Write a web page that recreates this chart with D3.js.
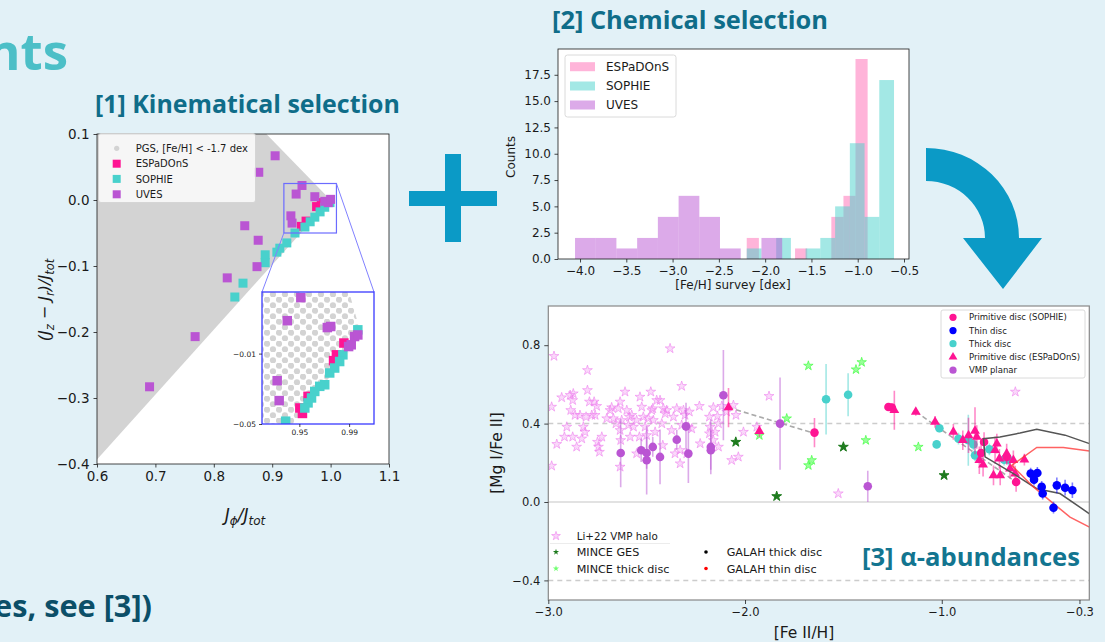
<!DOCTYPE html>
<html><head><meta charset="utf-8">
<script src="https://cdn.jsdelivr.net/npm/d3@7"></script>
<style>body{margin:0;background:#e2f1f7;} svg{display:block;font-family:"DejaVu Sans",sans-serif;}</style>
</head><body><svg id="c" width="1105" height="642"></svg>
<script>
// ---------------- DATA ----------------
// Panel 1: kinematical selection (Jphi/Jtot, (Jz-Jr)/Jtot)
const pgsRegion = [[0.6,0.1],[0.89,0.1],[1.0,0.0],[0.6,-0.393]];
const p1XTicks = [0.6,0.7,0.8,0.9,1.0,1.1];
const p1YTicks = [-0.4,-0.3,-0.2,-0.1,0.0,0.1];
const espMain = [[0.950,-0.040],[0.958,-0.032],[0.976,-0.010],[0.984,-0.004]];
const sophieMain = [[0.836,-0.147],[0.850,-0.126],[0.888,-0.083],[0.888,-0.095],[0.908,-0.079],[0.913,-0.073],[0.925,-0.065],[0.939,-0.050],[0.956,-0.041],[0.965,-0.033],[0.973,-0.026],[0.982,-0.018],[0.990,-0.011],[0.999,-0.004]];
const uvesMain = [[0.877,0.042],[0.905,0.067],[0.951,0.022],[0.941,0.009],[0.973,0.005],[0.990,-0.002],[0.996,-0.004],[1.000,0.001],[0.932,-0.024],[0.934,-0.035],[0.853,-0.039],[0.876,-0.061],[0.874,-0.101],[0.823,-0.118],[0.768,-0.207],[0.690,-0.283]];
// inset
const insetRegion = [[0.92,0.025],[0.99,0.025],[1.0,0.0],[0.945,-0.05],[0.92,-0.05]];
const insetXTicks = [0.95,0.99];
const insetYTicks = [-0.05,-0.01];
const espIn = [[0.9798,-0.0107],[0.9858,-0.0040],[0.9504,-0.0409],[0.9570,-0.0343],[0.9775,-0.0140],[0.9525,-0.0440]];
const sophieIn = [[0.9970,0.0035],[0.9850,-0.0107],[0.9824,-0.0145],[0.9784,-0.0182],[0.9744,-0.0210],[0.9704,-0.0277],[0.9664,-0.0286],[0.9624,-0.0315],[0.9598,-0.0352],[0.9570,-0.0380],[0.9544,-0.0409],[0.9390,-0.0484]];
const uvesIn = [[0.9512,0.0218],[0.9403,0.0087],[0.9725,0.0048],[0.9752,0.0054],[0.9944,-0.0003],[0.9970,0.0006],[0.9896,-0.0060],[0.9917,-0.0050],[0.9322,-0.0254],[0.9338,-0.0367]];

// Panel 2: histograms of [Fe/H]
const espEdges = [-2.199,-2.068,-1.938,-1.807,-1.677,-1.546,-1.415,-1.285,-1.154,-1.024,-0.893];
const espCounts = [2,0,0,0,1,0,0,4,6,19];
const sophieEdges = [-2.199,-2.040,-1.881,-1.722,-1.563,-1.404,-1.244,-1.085,-0.926,-0.767,-0.608];
const sophieCounts = [1,0,2,0,1,2,5,11,4,17];
const uvesEdges = [-4.054,-3.830,-3.607,-3.383,-3.159,-2.935,-2.711,-2.488,-2.264,-2.040,-1.816];
const uvesCounts = [2,2,1,2,4,6,4,1,0,2];
const p2XTicks = [-4.0,-3.5,-3.0,-2.5,-2.0,-1.5,-1.0,-0.5];
const p2YTicks = [0,2.5,5,7.5,10,12.5,15,17.5];

// Panel 3: [Mg I/Fe II] vs [Fe II/H]
const p3XTicks = [-3.0,-2.0,-1.0,-0.3];
const p3YTicks = [-0.4,0.0,0.4,0.8];
const liHalo = [[-2.971,0.744],[-2.983,0.485],[-2.983,0.184],[-2.957,0.295],[-2.932,0.533],[-2.906,0.383],[-2.918,0.332],[-2.889,0.545],[-2.876,0.519],[-2.886,0.468],[-2.864,0.443],[-2.876,0.332],[-2.873,0.553],[-2.856,0.281],[-2.839,0.443],[-2.830,0.323],[-2.822,0.383],[-2.813,0.357],[-2.808,0.434],[-2.801,0.672],[-2.801,0.570],[-2.791,0.511],[-2.779,0.443],[-2.767,0.511],[-2.762,0.443],[-2.754,0.489],[-2.745,0.281],[-2.750,0.306],[-2.740,0.255],[-2.728,0.332],[-2.703,0.426],[-2.686,0.468],[-2.678,0.482],[-2.669,0.426],[-2.656,0.400],[-2.644,0.477],[-2.635,0.511],[-2.627,0.417],[-2.635,0.366],[-2.635,0.179],[-2.632,0.315],[-2.610,0.562],[-2.601,0.468],[-2.593,0.392],[-2.584,0.332],[-2.588,0.434],[-2.576,0.443],[-2.567,0.383],[-2.551,0.417],[-2.551,0.247],[-2.537,0.332],[-2.534,0.536],[-2.525,0.485],[-2.517,0.434],[-2.508,0.383],[-2.500,0.340],[-2.491,0.426],[-2.479,0.562],[-2.474,0.468],[-2.469,0.477],[-2.466,0.417],[-2.457,0.357],[-2.449,0.519],[-2.432,0.519],[-2.423,0.400],[-2.418,0.289],[-2.415,0.477],[-2.406,0.451],[-2.398,0.468],[-2.381,0.783],[-2.373,0.366],[-2.364,0.434],[-2.356,0.247],[-2.347,0.477],[-2.330,0.196],[-2.330,0.264],[-2.322,0.591],[-2.322,0.392],[-2.313,0.468],[-2.305,0.443],[-2.296,0.247],[-2.288,0.383],[-2.283,0.460],[-2.271,0.374],[-2.232,0.489],[-2.228,0.298],[-2.181,0.434],[-2.181,0.349],[-2.178,0.383],[-2.161,0.482],[-2.161,0.315],[-2.152,0.357],[-2.140,0.438],[-2.135,0.281],[-2.135,0.400],[-2.118,0.489],[-2.093,0.460],[-2.068,0.213],[-2.059,0.494],[-2.046,0.443],[-2.034,0.230],[-2.008,0.357],[-1.940,0.383],[-1.878,0.540],[-1.526,0.043],[-0.626,0.562]];
const minceGES = [[-2.047,0.306],[-1.839,0.029],[-1.500,0.281],[-0.988,0.136]];
const minceThick = [[-1.788,0.426],[-1.927,0.340],[-1.678,0.695],[-1.436,0.676],[-1.407,0.713],[-1.386,0.315],[-1.661,0.213],[-1.678,0.187],[-1.119,0.281]];
const galahThick = [[-0.249,0.298],[-0.373,0.341],[-0.517,0.371],[-0.602,0.352],[-0.704,0.332],[-0.788,0.323],[-0.780,0.230],[-0.636,0.145],[-0.517,0.068],[-0.399,0.043],[-0.249,-0.060]];
const galahThin = [[-0.249,0.260],[-0.382,0.278],[-0.517,0.278],[-0.644,0.187],[-0.534,0.077],[-0.432,-0.008],[-0.348,-0.077],[-0.249,-0.128]];
const trendA = [[-2.084,0.482],[-1.653,0.352]];
const trendB = [[-1.131,0.460],[-0.636,0.111]];
// [Fe/H], [Mg/Fe], error
const vmpPlanar = [[-2.632,0.250,0.175],[-2.528,0.264,0.06],[-2.500,0.250,0.08],[-2.500,0.213,0.175],[-2.469,0.281,0.05],[-2.432,0.230,0.14],[-2.347,0.318,0.05],[-2.300,0.386,0.12],[-2.288,0.247,0.15],[-2.174,0.281,0.14],[-2.174,0.264,0.10],[-2.110,0.545,0.23],[-1.822,0.400,0.235],[-1.376,0.080,0.08]];
const primEsp = [[-2.084,0.482,0.10],[-1.927,0.361,0.03],[-1.241,0.468,0.10],[-1.132,0.460,0.02],[-1.034,0.409,0.03],[-0.941,0.358,0.04],[-0.893,0.315,0.05],[-0.864,0.340,0.09],[-0.831,0.363,0.12],[-0.822,0.332,0.06],[-0.809,0.213,0.07],[-0.790,0.190,0.06],[-0.729,0.264,0.07],[-0.720,0.298,0.05],[-0.707,0.221,0.05],[-0.670,0.247,0.05],[-0.636,0.213,0.05],[-0.580,0.216,0.03],[-0.737,0.136,0.05],[-0.703,0.136,0.05],[-0.653,0.170,0.05],[-0.627,0.145,0.04]];
const primSophie = [[-1.647,0.354,0.075],[-1.271,0.485,0.02],[-1.254,0.482,0.02],[-0.785,0.306,0.05],[-0.800,0.250,0.05],[-0.670,0.230,0.04],[-0.622,0.102,0.05]];
const thickDisc = [[-1.588,0.524,0.18],[-1.476,0.547,0.11],[-1.026,0.294,0.02],[-1.012,0.376,0.02],[-0.915,0.323,0.03],[-0.865,0.315,0.13],[-0.839,0.294,0.03],[-0.831,0.238,0.03],[-0.758,0.269,0.03],[-0.683,0.216,0.03],[-0.661,0.216,0.03]];
const thinDisc = [[-0.548,0.145,0.03],[-0.514,0.148,0.03],[-0.531,0.114,0.03],[-0.492,0.077,0.03],[-0.487,0.043,0.03],[-0.432,-0.029,0.03],[-0.415,0.085,0.04],[-0.373,0.073,0.04],[-0.336,0.060,0.04]];

// ---------------- DRAW ----------------
const svg = d3.select("#c");
const FONT = "DejaVu Sans";
const TFONT = "'Open Sans', Roboto, sans-serif";
const C_ESP = "#ff1493", C_SOP = "#48d1cc", C_UV = "#ba55d3";
svg.append("rect").attr("width",1105).attr("height",642).attr("fill","#e2f1f7");

function styleAxis(g, fs){
  g.select(".domain").remove();
  g.attr("font-family",FONT).attr("font-size",fs);
  g.selectAll("text").attr("fill","#1a1a1a");
  g.selectAll("line").attr("stroke","#1a1a1a").attr("stroke-width",0.8);
}
function squares(g, data, xs, ys, color, s){
  g.selectAll(null).data(data).enter().append("rect")
    .attr("x",d=>xs(d[0])-s/2).attr("y",d=>ys(d[1])-s/2)
    .attr("width",s).attr("height",s).attr("fill",color);
}
// title text fitted to the width it spans in the reference
function title(txt, x, y, width, color, anchor){
  const t = svg.append("text").attr("x",x).attr("y",y).attr("font-family",TFONT).attr("font-weight",700)
    .attr("font-size",24).attr("fill",color).attr("text-anchor",anchor||"start").text(txt);
  const w = t.node().getComputedTextLength();
  if (w>0) t.attr("font-size", 24*width/w);
  return t;
}

// ---- Titles / decorations ----
title("nts", 68, 70, 68-(-13), "#4cbfc7", "end");
title("[1] Kinematical selection", 95, 113, 305, "#0f6d89");
title("[2] Chemical selection", 552, 29, 276, "#0f6d89");
title("es, see [3])", 152, 617, 158, "#0c4f68", "end");
// plus sign
svg.append("rect").attr("x",445).attr("y",154).attr("width",16).attr("height",88).attr("fill","#0b9ac6");
svg.append("rect").attr("x",409).attr("y",191).attr("width",88).attr("height",15).attr("fill","#0b9ac6");
// curved arrow
svg.append("path").attr("d","M926,148 A93,90 0 0 1 1019,238 L1042,238 L1003,289 L963,238 L985,238 A59,57 0 0 0 926,181 Z")
  .attr("fill","#0b9ac6");

// ---- Panel 1 ----
const x1 = d3.scaleLinear().domain([0.6,1.1]).range([97,389]);
const y1 = d3.scaleLinear().domain([-0.4,0.1]).range([464,134]);
const p1 = svg.append("g");
p1.append("rect").attr("x",97).attr("y",134).attr("width",292).attr("height",330).attr("fill","#fff");
const line1 = d3.line().x(d=>x1(d[0])).y(d=>y1(d[1]));
p1.append("path").attr("d",line1(pgsRegion)+"Z").attr("fill","#d3d3d3");
squares(p1, espMain, x1, y1, C_ESP, 9);
squares(p1, sophieMain, x1, y1, C_SOP, 9);
squares(p1, uvesMain, x1, y1, C_UV, 9);
p1.append("rect").attr("x",97).attr("y",134).attr("width",292).attr("height",330)
  .attr("fill","none").attr("stroke","#1a1a1a").attr("stroke-width",0.8);
p1.append("g").attr("transform","translate(0,464)")
  .call(d3.axisBottom(x1).tickValues(p1XTicks).tickFormat(d3.format(".1f")).tickSize(3.5).tickPadding(4))
  .call(g=>styleAxis(g,13.5));
p1.append("g").attr("transform","translate(97,0)")
  .call(d3.axisLeft(y1).tickValues(p1YTicks).tickFormat(d3.format(".1f")).tickSize(3.5).tickPadding(4))
  .call(g=>styleAxis(g,13.5));
// axis labels
const xl1 = p1.append("text").attr("x",245).attr("y",521).attr("text-anchor","middle")
  .attr("font-family",FONT).attr("font-style","italic").attr("font-size",17).attr("fill","#1a1a1a");
xl1.append("tspan").text("J");
xl1.append("tspan").attr("font-size",12).attr("dy",4).text("ϕ");
xl1.append("tspan").attr("dy",-4).text("/J");
xl1.append("tspan").attr("font-size",12).attr("dy",4).text("tot");
const yl1 = p1.append("text").attr("transform","translate(50,300) rotate(-90)").attr("text-anchor","middle")
  .attr("font-family",FONT).attr("font-style","italic").attr("font-size",16).attr("fill","#1a1a1a");
yl1.append("tspan").text("(J");
yl1.append("tspan").attr("font-size",11.5).attr("dy",4).text("z");
yl1.append("tspan").attr("dy",-4).attr("font-style","normal").text(" − ");
yl1.append("tspan").text("J");
yl1.append("tspan").attr("font-size",11.5).attr("dy",4).text("r");
yl1.append("tspan").attr("dy",-4).text(")/J");
yl1.append("tspan").attr("font-size",11.5).attr("dy",4).text("tot");
// legend 1
const lg1 = p1.append("g").attr("font-family",FONT).attr("font-size",10).attr("fill","#1a1a1a");
lg1.append("rect").attr("x",98.5).attr("y",133.5).attr("width",157).attr("height",69).attr("rx",2.5)
  .attr("fill","#fff").attr("fill-opacity",0.8).attr("stroke","#d0d0d0").attr("stroke-width",0.8);
lg1.append("circle").attr("cx",116.7).attr("cy",148.3).attr("r",2.6).attr("fill","#d3d3d3");
const lg1Items = [["PGS, [Fe/H] < -1.7 dex",null,148.3],["ESPaDOnS",C_ESP,163.7],["SOPHIE",C_SOP,178.9],["UVES",C_UV,194.3]];
lg1Items.forEach(it=>{
  if(it[1]) lg1.append("rect").attr("x",112.7).attr("y",it[2]-4).attr("width",8).attr("height",8).attr("fill",it[1]);
  lg1.append("text").attr("x",135.7).attr("y",it[2]+3.6).text(it[0]);
});
// zoom rectangle + connectors + inset
const insetBox = {x0:262,y0:292,x1:374,y1:424};
p1.append("rect").attr("x",x1(0.92)).attr("y",y1(0.025)).attr("width",x1(1.01)-x1(0.92)).attr("height",y1(-0.05)-y1(0.025))
  .attr("fill","none").attr("stroke","#6b6bff").attr("stroke-width",1.2);
p1.append("line").attr("x1",x1(0.92)).attr("y1",y1(-0.05)).attr("x2",insetBox.x0).attr("y2",insetBox.y0)
  .attr("stroke","#8080ff").attr("stroke-width",1);
p1.append("line").attr("x1",x1(1.01)).attr("y1",y1(0.025)).attr("x2",insetBox.x1).attr("y2",insetBox.y0)
  .attr("stroke","#8080ff").attr("stroke-width",1);
const xi = d3.scaleLinear().domain([0.92,1.01]).range([insetBox.x0,insetBox.x1]);
const yi = d3.scaleLinear().domain([-0.05,0.025]).range([insetBox.y1,insetBox.y0]);
const defs = svg.append("defs");
const pat = defs.append("pattern").attr("id","dots").attr("patternUnits","userSpaceOnUse").attr("width",12).attr("height",11);
pat.append("circle").attr("cx",3).attr("cy",2.75).attr("r",3.1).attr("fill","#d3d3d3");
pat.append("circle").attr("cx",9).attr("cy",8.25).attr("r",3.1).attr("fill","#d3d3d3");
defs.append("clipPath").attr("id","insetClip").append("rect")
  .attr("x",insetBox.x0).attr("y",insetBox.y0).attr("width",insetBox.x1-insetBox.x0).attr("height",insetBox.y1-insetBox.y0);
const pin = p1.append("g");
pin.append("rect").attr("x",insetBox.x0).attr("y",insetBox.y0).attr("width",insetBox.x1-insetBox.x0).attr("height",insetBox.y1-insetBox.y0).attr("fill","#fff");
const pinc = pin.append("g").attr("clip-path","url(#insetClip)");
const linei = d3.line().x(d=>xi(d[0])).y(d=>yi(d[1]));
pinc.append("path").attr("d",linei(insetRegion)+"Z").attr("fill","url(#dots)");
squares(pinc, espIn, xi, yi, C_ESP, 9.5);
squares(pinc, sophieIn, xi, yi, C_SOP, 9.5);
squares(pinc, uvesIn, xi, yi, C_UV, 9.5);
pin.append("rect").attr("x",insetBox.x0).attr("y",insetBox.y0).attr("width",insetBox.x1-insetBox.x0).attr("height",insetBox.y1-insetBox.y0)
  .attr("fill","none").attr("stroke","#3a3aff").attr("stroke-width",1.3);
pin.append("g").attr("transform",`translate(0,${insetBox.y1})`)
  .call(d3.axisBottom(xi).tickValues(insetXTicks).tickFormat(d3.format(".2f")).tickSize(3).tickPadding(3))
  .call(g=>styleAxis(g,7.5));
pin.append("g").attr("transform",`translate(${insetBox.x0},0)`)
  .call(d3.axisLeft(yi).tickValues(insetYTicks).tickFormat(d3.format(".2f")).tickSize(3).tickPadding(3))
  .call(g=>styleAxis(g,7.5));

// ---- Panel 2 ----
const x2 = d3.scaleLinear().domain([-4.238,-0.446]).range([558,909]);
const y2 = d3.scaleLinear().domain([0,19.95]).range([259,49]);
const p2 = svg.append("g");
p2.append("rect").attr("x",558).attr("y",49).attr("width",351).attr("height",210).attr("fill","#fff");
function hist(edges, counts, color){
  const bins = counts.map((c,i)=>({x0:edges[i],x1:edges[i+1],c})).filter(b=>b.c>0);
  p2.selectAll(null).data(bins).enter().append("rect")
    .attr("x",b=>x2(b.x0)).attr("width",b=>x2(b.x1)-x2(b.x0))
    .attr("y",b=>y2(b.c)).attr("height",b=>y2(0)-y2(b.c))
    .attr("fill",color).attr("fill-opacity",0.5);
}
hist(espEdges, espCounts, "#ff69b4");
hist(sophieEdges, sophieCounts, C_SOP);
hist(uvesEdges, uvesCounts, C_UV);
p2.append("rect").attr("x",558).attr("y",49).attr("width",351).attr("height",210)
  .attr("fill","none").attr("stroke","#1a1a1a").attr("stroke-width",0.8);
p2.append("g").attr("transform","translate(0,259)")
  .call(d3.axisBottom(x2).tickValues(p2XTicks).tickFormat(d3.format(".1f")).tickSize(3.5).tickPadding(3.5))
  .call(g=>styleAxis(g,12));
p2.append("g").attr("transform","translate(558,0)")
  .call(d3.axisLeft(y2).tickValues(p2YTicks).tickFormat(d3.format(".1f")).tickSize(3.5).tickPadding(3.5))
  .call(g=>styleAxis(g,12));
p2.append("text").attr("x",733).attr("y",289).attr("text-anchor","middle").attr("font-family",FONT)
  .attr("font-size",12).attr("fill","#1a1a1a").text("[Fe/H] survey [dex]");
p2.append("text").attr("transform","translate(515,157) rotate(-90)").attr("text-anchor","middle").attr("font-family",FONT)
  .attr("font-size",12).attr("fill","#1a1a1a").text("Counts");
const lg2 = p2.append("g").attr("font-family",FONT).attr("font-size",12).attr("fill","#1a1a1a");
lg2.append("rect").attr("x",565).attr("y",55).attr("width",111).attr("height",62).attr("rx",2.5)
  .attr("fill","#fff").attr("fill-opacity",0.8).attr("stroke","#d0d0d0").attr("stroke-width",0.8);
[["ESPaDOnS","#ff69b4",66.7],["SOPHIE",C_SOP,86],["UVES",C_UV,105]].forEach(it=>{
  lg2.append("rect").attr("x",570).attr("y",it[2]-4.5).attr("width",25).attr("height",9).attr("fill",it[1]).attr("fill-opacity",0.5);
  lg2.append("text").attr("x",606).attr("y",it[2]+4.3).text(it[0]);
});

// ---- Panel 3 ----
const x3 = d3.scaleLinear().domain([-3.0,-0.25]).range([548.3,1089.3]);
const y3 = d3.scaleLinear().domain([-0.5,1.0]).range([600,306]);
const p3 = svg.append("g");
p3.append("rect").attr("x",548.3).attr("y",306).attr("width",541).attr("height",294).attr("fill","#fff");
defs.append("clipPath").attr("id","p3clip").append("rect").attr("x",548.3).attr("y",306).attr("width",541).attr("height",294);
const p3c = p3.append("g").attr("clip-path","url(#p3clip)");
[[0.4,"5,4","#cccccc"],[-0.4,"5,4","#cccccc"],[0.0,null,"#d8d8d8"]].forEach(h=>{
  const l = p3c.append("line").attr("x1",548.3).attr("x2",1089.3).attr("y1",y3(h[0])).attr("y2",y3(h[0]))
    .attr("stroke",h[2]).attr("stroke-width",1.5);
  if(h[1]) l.attr("stroke-dasharray",h[1]);
});
const starSym = s=>d3.symbol().type(d3.symbolStar).size(s)();
function stars(g, data, fill, fo, stroke, so, size){
  g.selectAll(null).data(data).enter().append("path")
    .attr("d",starSym(size)).attr("transform",d=>`translate(${x3(d[0])},${y3(d[1])})`)
    .attr("fill",fill).attr("fill-opacity",fo).attr("stroke",stroke).attr("stroke-opacity",so).attr("stroke-width",1);
}
stars(p3c, liHalo, "#ee82ee", 0.3, "#ee82ee", 0.6, 30);
const line3 = d3.line().x(d=>x3(d[0])).y(d=>y3(d[1]));
p3c.append("path").attr("d",line3(trendA)).attr("fill","none").attr("stroke","#aaaaaa").attr("stroke-width",1.6).attr("stroke-dasharray","5,3");
p3c.append("path").attr("d",line3(trendB)).attr("fill","none").attr("stroke","#aaaaaa").attr("stroke-width",1.6).attr("stroke-dasharray","5,3");
stars(p3c, minceThick, "#33ff33", 0.5, "#33ff33", 0.6, 28);
stars(p3c, minceGES, "#1e7b1e", 1, "#1e7b1e", 1, 30);
function errs(data, color){
  p3c.selectAll(null).data(data).enter().append("line")
    .attr("x1",d=>x3(d[0])).attr("x2",d=>x3(d[0])).attr("y1",d=>y3(d[1]-d[2])).attr("y2",d=>y3(d[1]+d[2]))
    .attr("stroke",color).attr("stroke-opacity",0.5).attr("stroke-width",1.6);
}
function circles(data, color, r){
  p3c.selectAll(null).data(data).enter().append("circle")
    .attr("cx",d=>x3(d[0])).attr("cy",d=>y3(d[1])).attr("r",r).attr("fill",color);
}
errs(vmpPlanar, C_UV); circles(vmpPlanar, C_UV, 4.3);
errs(thickDisc, C_SOP); circles(thickDisc, C_SOP, 4.3);
errs(primSophie, C_ESP); circles(primSophie, C_ESP, 4.3);
errs(primEsp, C_ESP);
p3c.selectAll(null).data(primEsp).enter().append("path")
  .attr("d",d3.symbol().type(d3.symbolTriangle).size(42)())
  .attr("transform",d=>`translate(${x3(d[0])},${y3(d[1])})`).attr("fill",C_ESP);
p3c.append("path").attr("d",line3(galahThick)).attr("fill","none").attr("stroke","#555").attr("stroke-width",1.5);
p3c.append("path").attr("d",line3(galahThin)).attr("fill","none").attr("stroke","#ff3b3b").attr("stroke-opacity",0.8).attr("stroke-width",1.5);
errs(thinDisc, "#0000ff"); circles(thinDisc, "#0000ff", 4.3);
p3.append("rect").attr("x",548.3).attr("y",306).attr("width",541).attr("height",294)
  .attr("fill","none").attr("stroke","#888").attr("stroke-width",1.2);
p3.append("g").attr("transform","translate(0,600)")
  .call(d3.axisBottom(x3).tickValues(p3XTicks).tickFormat(d3.format(".1f")).tickSize(4).tickPadding(4))
  .call(g=>styleAxis(g,11.5));
p3.append("g").attr("transform","translate(548.3,0)")
  .call(d3.axisLeft(y3).tickValues(p3YTicks).tickFormat(d3.format(".1f")).tickSize(4).tickPadding(4))
  .call(g=>styleAxis(g,11.5));
p3.append("text").attr("x",804).attr("y",638).attr("text-anchor","middle").attr("font-family",FONT)
  .attr("font-size",15.5).attr("fill","#1a1a1a").text("[Fe II/H]");
p3.append("text").attr("transform","translate(502,453) rotate(-90)").attr("text-anchor","middle").attr("font-family",FONT)
  .attr("font-size",15.5).attr("fill","#1a1a1a").text("[Mg I/Fe II]");
// legend top-right
const lg3 = p3.append("g").attr("font-family",FONT).attr("font-size",8.5).attr("fill","#1a1a1a");
lg3.append("rect").attr("x",941).attr("y",310).attr("width",144).attr("height",68).attr("rx",2)
  .attr("fill","#fff").attr("fill-opacity",0.8).attr("stroke","#d0d0d0").attr("stroke-width",0.8);
[["Primitive disc (SOPHIE)",C_ESP,"c",317.3],["Thin disc","#0000ff","c",330.6],["Thick disc",C_SOP,"c",343.7],
 ["Primitive disc (ESPaDOnS)",C_ESP,"t",357],["VMP planar",C_UV,"c",370.2]].forEach(it=>{
  if(it[2]==="c") lg3.append("circle").attr("cx",953).attr("cy",it[3]).attr("r",3.6).attr("fill",it[1]);
  else lg3.append("path").attr("d",d3.symbol().type(d3.symbolTriangle).size(34)()).attr("transform",`translate(953,${it[3]})`).attr("fill",it[1]);
  lg3.append("text").attr("x",969).attr("y",it[3]+3).text(it[0]);
});
// legend bottom-left
const lg4 = p3.append("g").attr("font-family",FONT).attr("fill","#1a1a1a");
lg4.append("line").attr("x1",550).attr("x2",670).attr("y1",543.5).attr("y2",543.5).attr("stroke","#ececec");
lg4.append("path").attr("d",starSym(24)).attr("transform","translate(556,536)").attr("fill","#ee82ee").attr("fill-opacity",0.35).attr("stroke","#ee82ee").attr("stroke-opacity",0.6);
lg4.append("text").attr("x",576.7).attr("y",539.5).attr("font-size",10.3).text("Li+22 VMP halo");
lg4.append("path").attr("d",starSym(12)).attr("transform","translate(556,552)").attr("fill","#1e7b1e");
lg4.append("text").attr("x",576.7).attr("y",555.7).attr("font-size",11.2).text("MINCE GES");
lg4.append("path").attr("d",starSym(12)).attr("transform","translate(556,568.5)").attr("fill","#33ff33").attr("fill-opacity",0.7);
lg4.append("text").attr("x",576.7).attr("y",572.5).attr("font-size",11.2).text("MINCE thick disc");
lg4.append("circle").attr("cx",706).attr("cy",552).attr("r",1.8).attr("fill","#000");
lg4.append("text").attr("x",726.7).attr("y",555.7).attr("font-size",11.2).text("GALAH thick disc");
lg4.append("circle").attr("cx",706).attr("cy",568.5).attr("r",1.8).attr("fill","#ff0000");
lg4.append("text").attr("x",726.7).attr("y",572.5).attr("font-size",11.2).text("GALAH thin disc");
title("[3] α-abundances", 862, 566, 218, "#137590");
</script></body></html>
